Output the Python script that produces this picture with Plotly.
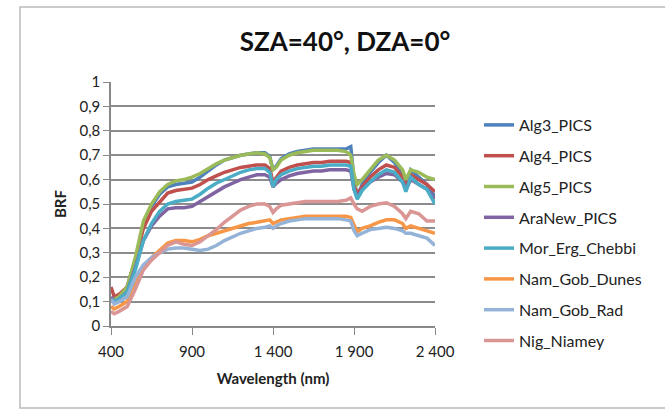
import plotly.graph_objects as go

wavelength = [400, 420, 450, 500, 550, 600, 650, 700, 750, 800, 850, 900, 950, 1000, 1050, 1100,
              1150, 1200, 1250, 1300, 1350, 1380, 1400, 1420, 1450, 1500, 1550, 1600, 1650, 1700,
              1750, 1800, 1850, 1880, 1900, 1920, 1950, 2000, 2050, 2100, 2150, 2200, 2220, 2250,
              2300, 2350, 2400]

alg3 = [0.11, 0.10, 0.12, 0.16, 0.27, 0.41, 0.49, 0.54, 0.57, 0.58, 0.585, 0.59, 0.61, 0.635, 0.66, 0.68,
        0.69, 0.70, 0.705, 0.71, 0.71, 0.695, 0.64, 0.655, 0.685, 0.705, 0.715, 0.72, 0.725, 0.725,
        0.725, 0.725, 0.725, 0.735, 0.60, 0.53, 0.58, 0.63, 0.67, 0.70, 0.67, 0.62, 0.57, 0.64,
        0.61, 0.58, 0.53]
alg4 = [0.16, 0.12, 0.13, 0.16, 0.27, 0.40, 0.47, 0.51, 0.545, 0.555, 0.56, 0.565, 0.58, 0.60, 0.615, 0.63,
        0.64, 0.65, 0.655, 0.66, 0.66, 0.645, 0.59, 0.61, 0.635, 0.65, 0.66, 0.665, 0.67, 0.67,
        0.675, 0.675, 0.675, 0.67, 0.58, 0.54, 0.57, 0.61, 0.64, 0.66, 0.65, 0.61, 0.57, 0.62,
        0.60, 0.58, 0.55]
alg5 = [0.10, 0.11, 0.12, 0.16, 0.28, 0.43, 0.50, 0.55, 0.58, 0.595, 0.60, 0.61, 0.625, 0.645, 0.665, 0.68,
        0.69, 0.70, 0.705, 0.71, 0.705, 0.69, 0.64, 0.65, 0.68, 0.70, 0.71, 0.715, 0.72, 0.72,
        0.72, 0.72, 0.715, 0.70, 0.62, 0.58, 0.60, 0.64, 0.68, 0.70, 0.68, 0.64, 0.60, 0.64,
        0.63, 0.61, 0.60]
aranew = [0.12, 0.10, 0.11, 0.14, 0.24, 0.35, 0.41, 0.45, 0.48, 0.485, 0.485, 0.49, 0.51, 0.53, 0.55, 0.57,
          0.585, 0.60, 0.61, 0.62, 0.62, 0.61, 0.57, 0.585, 0.60, 0.615, 0.625, 0.63, 0.635, 0.635,
          0.64, 0.64, 0.64, 0.635, 0.56, 0.53, 0.56, 0.59, 0.61, 0.625, 0.62, 0.59, 0.56, 0.60,
          0.58, 0.56, 0.52]
mor_erg = [0.11, 0.10, 0.11, 0.14, 0.23, 0.35, 0.42, 0.47, 0.50, 0.51, 0.515, 0.52, 0.54, 0.565, 0.585, 0.60,
           0.615, 0.63, 0.64, 0.645, 0.645, 0.63, 0.57, 0.60, 0.62, 0.635, 0.645, 0.65, 0.655, 0.655,
           0.66, 0.66, 0.66, 0.655, 0.56, 0.52, 0.555, 0.59, 0.62, 0.64, 0.63, 0.59, 0.55, 0.61,
           0.58, 0.56, 0.50]
nam_dunes = [0.08, 0.07, 0.08, 0.10, 0.17, 0.24, 0.28, 0.31, 0.34, 0.35, 0.35, 0.345, 0.355, 0.37, 0.38, 0.39,
             0.40, 0.41, 0.42, 0.425, 0.43, 0.435, 0.42, 0.425, 0.435, 0.44, 0.445, 0.45, 0.45, 0.45,
             0.45, 0.45, 0.45, 0.445, 0.41, 0.385, 0.40, 0.41, 0.425, 0.435, 0.435, 0.42, 0.40, 0.41,
             0.40, 0.39, 0.38]
nam_rad = [0.11, 0.09, 0.10, 0.12, 0.20, 0.25, 0.28, 0.30, 0.315, 0.32, 0.32, 0.315, 0.31, 0.315, 0.33, 0.35,
           0.365, 0.38, 0.39, 0.40, 0.405, 0.41, 0.40, 0.41, 0.42, 0.43, 0.435, 0.44, 0.44, 0.44,
           0.44, 0.44, 0.435, 0.43, 0.39, 0.37, 0.38, 0.395, 0.40, 0.405, 0.40, 0.39, 0.38, 0.38,
           0.37, 0.36, 0.33]
nig_niamey = [0.06, 0.05, 0.06, 0.08, 0.15, 0.23, 0.27, 0.30, 0.33, 0.345, 0.335, 0.33, 0.345, 0.37, 0.395, 0.425,
              0.45, 0.475, 0.49, 0.50, 0.50, 0.49, 0.465, 0.48, 0.495, 0.50, 0.505, 0.51, 0.51, 0.51,
              0.51, 0.51, 0.515, 0.525, 0.50, 0.48, 0.47, 0.49, 0.50, 0.505, 0.49, 0.46, 0.44, 0.47,
              0.46, 0.43, 0.43]

series_names = ["Alg3_PICS", "Alg4_PICS", "Alg5_PICS", "AraNew_PICS", "Mor_Erg_Chebbi",
                "Nam_Gob_Dunes", "Nam_Gob_Rad", "Nig_Niamey"]
series_values = [alg3, alg4, alg5, aranew, mor_erg, nam_dunes, nam_rad, nig_niamey]
colors = ["#4F81BD", "#C0504D", "#9BBB59", "#8064A2", "#4BACC6", "#F79646", "#95B3D7", "#DA9694"]

y_tick_vals = [0, 0.1, 0.2, 0.3, 0.4, 0.5, 0.6, 0.7, 0.8, 0.9, 1]
y_tick_text = ["0", "0,1", "0,2", "0,3", "0,4", "0,5", "0,6", "0,7", "0,8", "0,9", "1"]
x_tick_vals = [400, 900, 1400, 1900, 2400]
x_tick_text = ["400", "900", "1 400", "1 900", "2 400"]

FONT = "Lato"

fig = go.Figure()
for i, (name, vals, col) in enumerate(zip(series_names, series_values, colors)):
    fig.add_trace(go.Scatter(x=wavelength, y=vals, mode="lines", name=name,
                             legendgroup=name,
                             line=dict(color=col, width=3.5)))

W, H = 665, 410
L, R, T, B = 111, 230, 82, 84
pw, ph = W - L - R, H - T - B

def px_x(x):
    return (x - L) / pw

def px_y(y):
    return (H - B - y) / ph

fig.update_layout(
    width=W, height=H,
    margin=dict(l=L, r=R, t=T, b=B),
    paper_bgcolor="white", plot_bgcolor="white",
    font=dict(family=FONT, color="#222222", size=15),
    title=dict(text="<b>SZA=40°, DZA=0°</b>", x=px_x(345), xref="paper", xanchor="center",
               y=1 - 42 / H, yanchor="middle", font=dict(size=26, family=FONT, color="#111111")),
    xaxis=dict(range=[400, 2400], tickvals=x_tick_vals, ticktext=x_tick_text,
               showgrid=False, zeroline=False, showline=True, linecolor="#888888", linewidth=1.5,
               ticks="outside", ticklen=7, tickcolor="#888888", tickfont=dict(size=15),
               ticklabelstandoff=4,
               title=dict(text="<b>Wavelength (nm)</b>", font=dict(size=15), standoff=15)),
    yaxis=dict(range=[0, 1], tickvals=y_tick_vals, ticktext=y_tick_text,
               showgrid=True, gridcolor="#8c8c8c", gridwidth=1.5, zeroline=False,
               showline=True, linecolor="#888888", linewidth=1.5,
               ticks="outside", ticklen=6, tickcolor="#888888", tickfont=dict(size=15),
               title=dict(text="<b>BRF</b>", font=dict(size=15), standoff=9)),
    legend=dict(x=px_x(479), y=px_y(108), xanchor="left", yanchor="top", maxheight=400,
                font=dict(size=16, family=FONT), tracegroupgap=7, bgcolor="rgba(0,0,0,0)"),
    showlegend=True,
)

fig.add_shape(type="rect", xref="paper", yref="paper",
              x0=px_x(20), x1=px_x(680), y0=px_y(408), y1=px_y(7),
              line=dict(color="#bbbbbb", width=1.5), fillcolor="rgba(0,0,0,0)", layer="below")

fig.write_html("out.html")
